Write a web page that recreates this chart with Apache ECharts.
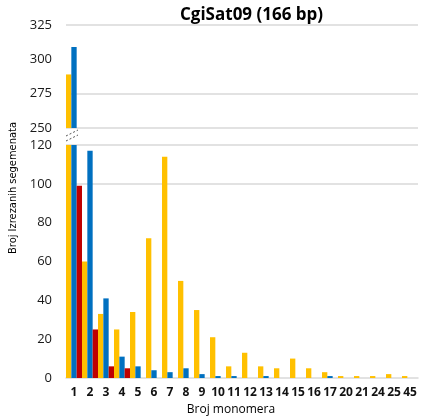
<!DOCTYPE html>
<html>
<head>
<meta charset="utf-8">
<script src="https://cdn.jsdelivr.net/npm/echarts@6/dist/echarts.min.js"></script>
<style>
  html, body { margin: 0; padding: 0; background: #fff; }
  #chart { width: 422px; height: 419px; }
</style>
</head>
<body>
<div id="chart"></div>
<script>
const categories = ["1", "2", "3", "4", "5", "6", "7", "8", "9", "10", "11", "12", "13", "14", "15", "16", "17", "20", "21", "24", "25", "45"];
const yellowValues = [289, 60, 33, 25, 34, 72, 114, 50, 35, 21, 6, 13, 6, 5, 10, 5, 3, 1, 1, 1, 2, 1];
const blueValues = [309, 117, 41, 11, 6, 4, 3, 5, 2, 1, 1, 0, 1, 0, 0, 0, 1, 0, 0, 0, 0, 0];
const redValues = [99, 25, 6, 5, 0, 0, 0, 0, 0, 0, 0, 0, 0, 0, 0, 0, 0, 0, 0, 0, 0, 0];

const breakAt = 120;
const upperTicks = [250, 275, 300, 325];
const lowerTicks = [0, 20, 40, 60, 80, 100, 120];

const colors = { yellow: "#FFC000", blue: "#0070C0", red: "#C00000" };
const grid = "#d9d9d9";

const chart = echarts.init(document.getElementById("chart"));

function upper(arr) {
  return arr.map((v) => (v > breakAt ? v : null));
}

function bars(name, data, color, axisIdx) {
  return {
    name,
    type: "bar",
    xAxisIndex: axisIdx,
    yAxisIndex: axisIdx,
    data,
    barGap: "0%",
    barCategoryGap: "0%",
    clip: true,
    itemStyle: { color },
    silent: true,
  };
}

const labelFont = { color: "#1a1a1a", fontSize: 13, fontFamily: "Open Sans" };

chart.setOption({
  animation: false,
  title: {
    text: "CgiSat09 (166 bp)",
    left: 175,
    top: 2,
    textStyle: { fontFamily: "Open Sans", fontWeight: "bold", fontSize: 17, color: "#000" },
  },
  grid: [
    { left: 66, right: 4, top: 25, height: 103 },
    { left: 66, right: 4, top: 145, height: 233 },
  ],
  xAxis: [
    {
      type: "category", gridIndex: 0, data: categories,
      axisLine: { show: false }, axisTick: { show: false }, axisLabel: { show: false },
    },
    {
      type: "category", gridIndex: 1, data: categories,
      axisLine: { lineStyle: { color: grid, width: 1.5 } },
      axisTick: { show: false },
      axisLabel: { interval: 0, margin: 9, color: "#111", fontSize: 12, fontWeight: "bold", fontFamily: "Open Sans" },
    },
  ],
  yAxis: [
    {
      type: "value", gridIndex: 0,
      min: upperTicks[0], max: upperTicks[upperTicks.length - 1], interval: 25,
      axisLine: { show: false }, axisTick: { show: false },
      axisLabel: { ...labelFont, margin: 14 },
      splitLine: { lineStyle: { color: [grid, grid, "transparent", grid], width: 1.5 } },
    },
    {
      type: "value", gridIndex: 1,
      min: lowerTicks[0], max: lowerTicks[lowerTicks.length - 1], interval: 20,
      axisLine: { show: false }, axisTick: { show: false },
      axisLabel: { ...labelFont, margin: 14 },
      splitLine: {
        lineStyle: {
          color: ["transparent", "transparent", "transparent", "transparent", "transparent", grid, grid],
          width: 1.5,
        },
      },
    },
  ],
  series: [
    bars("yellow", upper(yellowValues), colors.yellow, 0),
    bars("blue", upper(blueValues), colors.blue, 0),
    bars("red", upper(redValues), colors.red, 0),
    bars("yellow", yellowValues, colors.yellow, 1),
    bars("blue", blueValues, colors.blue, 1),
    bars("red", redValues, colors.red, 1),
  ],
  graphic: [
    // axis break marks
    { type: "rect", shape: { x: 62, y: 129, width: 22, height: 14 }, style: { fill: "#fff" }, z: 100 },
    { type: "line", shape: { x1: 66, y1: 136, x2: 78, y2: 130 }, style: { stroke: "#555", lineWidth: 1, lineDash: [2, 2] }, z: 101 },
    { type: "line", shape: { x1: 66, y1: 141, x2: 78, y2: 135 }, style: { stroke: "#555", lineWidth: 1, lineDash: [2, 2] }, z: 101 },
    {
      type: "text", x: 13, y: 188, rotation: Math.PI / 2,
      style: {
        text: "Broj Izrezanih segemenata", fill: "#000",
        font: "11px 'Liberation Sans Narrow', 'DejaVu Sans Condensed', sans-serif",
        align: "center", verticalAlign: "middle",
      },
    },
    {
      type: "text", x: 231, y: 410,
      style: {
        text: "Broj monomera", fill: "#000",
        font: "12px 'Open Sans', sans-serif",
        align: "center", verticalAlign: "middle",
      },
    },
  ],
});
</script>
</body>
</html>
